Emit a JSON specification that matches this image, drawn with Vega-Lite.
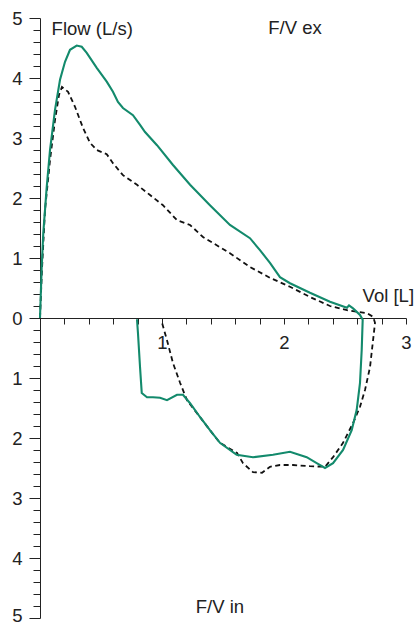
{
  "$schema": "https://vega.github.io/schema/vega-lite/v6.json",
  "width": 366,
  "height": 600,
  "autosize": "none",
  "padding": {"left": 40, "top": 18, "right": 13, "bottom": 8},
  "background": "white",
  "config": {
    "view": {"stroke": null},
    "font": "Liberation Sans",
    "axis": {"grid": false, "domainColor": "#222", "tickColor": "#222", "labelColor": "#222", "labelFont": "Liberation Sans", "titleFont": "Liberation Sans"}
  },
  "datasets": {
    "curves": [
      {"c":"g","i":1,"vol":0,"flow":0},
      {"c":"g","i":2,"vol":0.014,"flow":0.85},
      {"c":"g","i":3,"vol":0.027,"flow":1.42},
      {"c":"g","i":4,"vol":0.055,"flow":2.18},
      {"c":"g","i":5,"vol":0.082,"flow":2.80},
      {"c":"g","i":6,"vol":0.123,"flow":3.47},
      {"c":"g","i":7,"vol":0.164,"flow":3.97},
      {"c":"g","i":8,"vol":0.205,"flow":4.27},
      {"c":"g","i":9,"vol":0.246,"flow":4.47},
      {"c":"g","i":10,"vol":0.301,"flow":4.54},
      {"c":"g","i":11,"vol":0.342,"flow":4.52},
      {"c":"g","i":12,"vol":0.383,"flow":4.42},
      {"c":"g","i":13,"vol":0.465,"flow":4.17},
      {"c":"g","i":14,"vol":0.547,"flow":3.94},
      {"c":"g","i":15,"vol":0.598,"flow":3.77},
      {"c":"g","i":16,"vol":0.639,"flow":3.60},
      {"c":"g","i":17,"vol":0.680,"flow":3.50},
      {"c":"g","i":18,"vol":0.762,"flow":3.38},
      {"c":"g","i":19,"vol":0.820,"flow":3.22},
      {"c":"g","i":20,"vol":0.861,"flow":3.10},
      {"c":"g","i":21,"vol":0.959,"flow":2.88},
      {"c":"g","i":22,"vol":1.090,"flow":2.55},
      {"c":"g","i":23,"vol":1.230,"flow":2.22},
      {"c":"g","i":24,"vol":1.393,"flow":1.88},
      {"c":"g","i":25,"vol":1.557,"flow":1.55},
      {"c":"g","i":26,"vol":1.721,"flow":1.33},
      {"c":"g","i":27,"vol":1.803,"flow":1.13},
      {"c":"g","i":28,"vol":1.885,"flow":0.92},
      {"c":"g","i":29,"vol":1.967,"flow":0.68},
      {"c":"g","i":30,"vol":2.049,"flow":0.58},
      {"c":"g","i":31,"vol":2.213,"flow":0.42},
      {"c":"g","i":32,"vol":2.377,"flow":0.27},
      {"c":"g","i":33,"vol":2.516,"flow":0.17},
      {"c":"g","i":34,"vol":2.533,"flow":0.21},
      {"c":"g","i":35,"vol":2.566,"flow":0.16},
      {"c":"g","i":36,"vol":2.623,"flow":0.05},
      {"c":"g","i":37,"vol":2.645,"flow":-0.03},
      {"c":"g","i":38,"vol":2.637,"flow":-0.53},
      {"c":"g","i":39,"vol":2.623,"flow":-1.08},
      {"c":"g","i":40,"vol":2.596,"flow":-1.53},
      {"c":"g","i":41,"vol":2.555,"flow":-1.87},
      {"c":"g","i":42,"vol":2.484,"flow":-2.20},
      {"c":"g","i":43,"vol":2.402,"flow":-2.42},
      {"c":"g","i":44,"vol":2.336,"flow":-2.50},
      {"c":"g","i":45,"vol":2.268,"flow":-2.42},
      {"c":"g","i":46,"vol":2.186,"flow":-2.32},
      {"c":"g","i":47,"vol":2.049,"flow":-2.23},
      {"c":"g","i":48,"vol":1.910,"flow":-2.28},
      {"c":"g","i":49,"vol":1.746,"flow":-2.32},
      {"c":"g","i":50,"vol":1.612,"flow":-2.28},
      {"c":"g","i":51,"vol":1.475,"flow":-2.08},
      {"c":"g","i":52,"vol":1.393,"flow":-1.87},
      {"c":"g","i":53,"vol":1.311,"flow":-1.65},
      {"c":"g","i":54,"vol":1.230,"flow":-1.42},
      {"c":"g","i":55,"vol":1.172,"flow":-1.28},
      {"c":"g","i":56,"vol":1.123,"flow":-1.28},
      {"c":"g","i":57,"vol":1.041,"flow":-1.37},
      {"c":"g","i":58,"vol":0.984,"flow":-1.33},
      {"c":"g","i":59,"vol":0.926,"flow":-1.32},
      {"c":"g","i":60,"vol":0.877,"flow":-1.32},
      {"c":"g","i":61,"vol":0.834,"flow":-1.25},
      {"c":"g","i":62,"vol":0.820,"flow":-0.82},
      {"c":"g","i":63,"vol":0.803,"flow":-0.25},
      {"c":"g","i":64,"vol":0.795,"flow":-0.02},
      {"c":"d","i":1,"vol":0,"flow":0},
      {"c":"d","i":2,"vol":0.016,"flow":0.80},
      {"c":"d","i":3,"vol":0.041,"flow":1.80},
      {"c":"d","i":4,"vol":0.082,"flow":2.63},
      {"c":"d","i":5,"vol":0.123,"flow":3.30},
      {"c":"d","i":6,"vol":0.156,"flow":3.72},
      {"c":"d","i":7,"vol":0.180,"flow":3.85},
      {"c":"d","i":8,"vol":0.230,"flow":3.77},
      {"c":"d","i":9,"vol":0.287,"flow":3.52},
      {"c":"d","i":10,"vol":0.352,"flow":3.17},
      {"c":"d","i":11,"vol":0.410,"flow":2.92},
      {"c":"d","i":12,"vol":0.465,"flow":2.80},
      {"c":"d","i":13,"vol":0.547,"flow":2.73},
      {"c":"d","i":14,"vol":0.598,"flow":2.58},
      {"c":"d","i":15,"vol":0.680,"flow":2.38},
      {"c":"d","i":16,"vol":0.795,"flow":2.22},
      {"c":"d","i":17,"vol":0.902,"flow":2.05},
      {"c":"d","i":18,"vol":1.008,"flow":1.88},
      {"c":"d","i":19,"vol":1.123,"flow":1.63},
      {"c":"d","i":20,"vol":1.230,"flow":1.55},
      {"c":"d","i":21,"vol":1.336,"flow":1.35},
      {"c":"d","i":22,"vol":1.475,"flow":1.18},
      {"c":"d","i":23,"vol":1.557,"flow":1.08},
      {"c":"d","i":24,"vol":1.721,"flow":0.85},
      {"c":"d","i":25,"vol":1.885,"flow":0.67},
      {"c":"d","i":26,"vol":2.049,"flow":0.52},
      {"c":"d","i":27,"vol":2.213,"flow":0.35},
      {"c":"d","i":28,"vol":2.377,"flow":0.20},
      {"c":"d","i":29,"vol":2.516,"flow":0.13},
      {"c":"d","i":30,"vol":2.680,"flow":0.08},
      {"c":"d","i":31,"vol":2.730,"flow":0.02},
      {"c":"d","i":32,"vol":2.746,"flow":-0.08},
      {"c":"d","i":33,"vol":2.730,"flow":-0.37},
      {"c":"d","i":34,"vol":2.705,"flow":-0.82},
      {"c":"d","i":35,"vol":2.664,"flow":-1.20},
      {"c":"d","i":36,"vol":2.623,"flow":-1.48},
      {"c":"d","i":37,"vol":2.566,"flow":-1.75},
      {"c":"d","i":38,"vol":2.484,"flow":-2.08},
      {"c":"d","i":39,"vol":2.402,"flow":-2.32},
      {"c":"d","i":40,"vol":2.336,"flow":-2.48},
      {"c":"d","i":41,"vol":2.213,"flow":-2.47},
      {"c":"d","i":42,"vol":2.074,"flow":-2.45},
      {"c":"d","i":43,"vol":1.967,"flow":-2.45},
      {"c":"d","i":44,"vol":1.885,"flow":-2.48},
      {"c":"d","i":45,"vol":1.820,"flow":-2.58},
      {"c":"d","i":46,"vol":1.746,"flow":-2.57},
      {"c":"d","i":47,"vol":1.664,"flow":-2.42},
      {"c":"d","i":48,"vol":1.615,"flow":-2.25},
      {"c":"d","i":49,"vol":1.533,"flow":-2.15},
      {"c":"d","i":50,"vol":1.475,"flow":-2.08},
      {"c":"d","i":51,"vol":1.393,"flow":-1.87},
      {"c":"d","i":52,"vol":1.311,"flow":-1.65},
      {"c":"d","i":53,"vol":1.205,"flow":-1.37},
      {"c":"d","i":54,"vol":1.148,"flow":-1.08},
      {"c":"d","i":55,"vol":1.090,"flow":-0.75},
      {"c":"d","i":56,"vol":1.041,"flow":-0.37},
      {"c":"d","i":57,"vol":1.000,"flow":-0.08}
    ]
  },
  "data": {"name": "curves"},
  "resolve": {"axis": {"x": "independent", "y": "independent"}},
  "layer": [
    {
      "transform": [{"filter": "datum.c == 'd'"}],
      "mark": {"type": "line", "color": "#111", "strokeWidth": 1.8, "strokeDash": [5, 3.5]},
      "encoding": {
        "x": {"field": "vol", "type": "quantitative", "scale": {"domain": [0, 3], "nice": false, "zero": false},
          "axis": {"orient": "bottom", "offset": -300, "title": null, "values": [0.2,0.4,0.6,0.8,1,1.2,1.4,1.6,1.8,2,2.2,2.4,2.6,2.8,3],
            "labelExpr": "datum.value == 1 || datum.value == 2 || datum.value == 3 ? format(datum.value, 'd') : ''",
            "tickSize": 6, "labelFontSize": 18.5, "labelPadding": 9, "labelFlush": false, "labelOverlap": false, "domain": true}},
        "y": {"field": "flow", "type": "quantitative", "scale": {"domain": [-5, 5], "nice": false, "zero": false},
          "axis": {"orient": "left", "title": null, "labels": false, "domain": false, "tickSize": 7,
            "values": [-4.8,-4.6,-4.4,-4.2,-3.8,-3.6,-3.4,-3.2,-2.8,-2.6,-2.4,-2.2,-1.8,-1.6,-1.4,-1.2,-0.8,-0.6,-0.4,-0.2,0.2,0.4,0.6,0.8,1.2,1.4,1.6,1.8,2.2,2.4,2.6,2.8,3.2,3.4,3.6,3.8,4.2,4.4,4.6,4.8]}},
        "order": {"field": "i", "type": "quantitative"}
      }
    },
    {
      "transform": [{"filter": "datum.c == 'g'"}],
      "mark": {"type": "line", "color": "#138a6c", "strokeWidth": 2.1},
      "encoding": {
        "x": {"field": "vol", "type": "quantitative", "axis": null},
        "y": {"field": "flow", "type": "quantitative",
          "axis": {"orient": "left", "title": null, "values": [-5,-4,-3,-2,-1,0,1,2,3,4,5], "tickSize": 11,
            "labelExpr": "format(abs(datum.value), 'd')", "labelFontSize": 18.5, "labelPadding": 7, "labelFlush": false, "labelOverlap": false, "domain": true,
            "labelOffset": {"condition": {"test": "datum.value == -5", "value": -3}, "value": 0}}},
        "order": {"field": "i", "type": "quantitative"}
      }
    },
    {
      "data": {"values": [{}]},
      "mark": {"type": "text", "text": "Flow (L/s)", "fontSize": 18.5, "align": "left", "baseline": "middle", "color": "#222"},
      "encoding": {"x": {"datum": 0.095, "type": "quantitative", "axis": null}, "y": {"datum": 4.81, "type": "quantitative", "axis": null}}
    },
    {
      "data": {"values": [{}]},
      "mark": {"type": "text", "text": "F/V ex", "fontSize": 18.5, "align": "center", "baseline": "middle", "color": "#222"},
      "encoding": {"x": {"datum": 2.09, "type": "quantitative", "axis": null}, "y": {"datum": 4.83, "type": "quantitative", "axis": null}}
    },
    {
      "data": {"values": [{}]},
      "mark": {"type": "text", "text": "Vol [L]", "fontSize": 18.5, "align": "center", "baseline": "middle", "color": "#222"},
      "encoding": {"x": {"datum": 2.855, "type": "quantitative", "axis": null}, "y": {"datum": 0.37, "type": "quantitative", "axis": null}}
    },
    {
      "data": {"values": [{}]},
      "mark": {"type": "text", "text": "F/V in", "fontSize": 18.5, "align": "center", "baseline": "middle", "color": "#222"},
      "encoding": {"x": {"datum": 1.475, "type": "quantitative", "axis": null}, "y": {"datum": -4.82, "type": "quantitative", "axis": null}}
    }
  ]
}
